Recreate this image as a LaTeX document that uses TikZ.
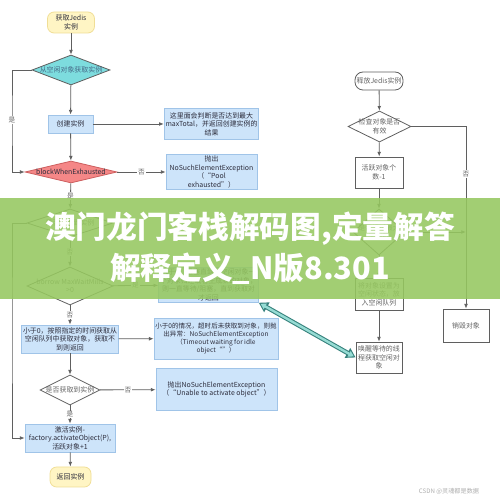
\documentclass[tikz,border=0pt]{standalone}
\usepackage{fontspec}
\setmainfont{Noto Sans CJK SC}
\usetikzlibrary{shapes.geometric,arrows.meta}

\definecolor{lineGray}{RGB}{95,95,95}
\definecolor{txtDark}{RGB}{45,45,60}
\definecolor{txtGray}{RGB}{100,100,100}
\definecolor{startFill}{RGB}{255,245,196}
\definecolor{startDraw}{RGB}{240,222,150}
\definecolor{blueFill}{RGB}{205,228,250}
\definecolor{blueDraw}{RGB}{160,196,232}
\definecolor{cyanFill}{RGB}{125,220,222}
\definecolor{pinkFill}{RGB}{245,135,135}
\definecolor{pinkDraw}{RGB}{205,95,95}
\definecolor{bandGreen}{RGB}{150,200,96}
\definecolor{tealDark}{RGB}{55,130,125}
\definecolor{tealLight}{RGB}{150,220,212}

\tikzset{every picture/.style={line width=0.6pt}}
\tikzset{
  boxtext/.style={font=\fontsize{5.2}{6.4}\selectfont, align=center, inner sep=1pt},
  startend/.style={boxtext, draw=startDraw, fill=startFill, rounded corners=5pt, text=txtDark},
  bluebox/.style={boxtext, draw=blueDraw, fill=blueFill, text=txtDark},
  flowbox/.style={boxtext, draw=lineGray, fill=white, text=txtGray},
  decision/.style={diamond, inner sep=0pt, draw=lineGray},
  dtext/.style={boxtext, text=txtGray},
  arr/.style={draw=lineGray, -{Latex[length=3.5pt,width=2.8pt]}},
  lbl/.style={font=\fontsize{5}{6}\selectfont, fill=white, inner sep=0.6pt, text=txtGray},
}

\begin{document}
\begin{tikzpicture}[x=0.75pt,y=0.75pt,yscale=-1,xscale=1]
\useasboundingbox (0,0) rectangle (500,498);
\fill[white] (0,0) rectangle (500,498);

% ---- left flow: borrow ----
% Text Node
\node[startend, minimum width=35.25pt, minimum height=15.75pt] (start) at (71,22.5) {获取Jedis\\实例};
%Shape: Diamond
\node[decision, fill=cyanFill, minimum width=58.5pt, minimum height=22.5pt,
  label={[dtext, text={rgb,255:red,70;green,105;blue,135}]center:从空闲对象获取实例}] (dIdle) at (71,70) {};
% Text Node
\node[bluebox, minimum width=33.75pt, minimum height=13.5pt] (create) at (70.5,124) {创建实例};
\node[bluebox, minimum width=68.25pt, minimum height=23.25pt] (noteMax) at (211.5,124) {这里面会判断是否达到最大\\maxTotal，并返回创建实例的\\结果};
%Shape: Diamond
\node[decision, fill=pinkFill, draw=pinkDraw, minimum width=69pt, minimum height=16.5pt,
  label={[dtext, text=txtDark]center:blockWhenExhausted}] (dBlock) at (71,172) {};
\node[bluebox, minimum width=68.25pt, minimum height=22.5pt] (exPool) at (211.5,172) {抛出\\NoSuchElementException\\（“Pool\\exhausted”）};
%Shape: Diamond
\node[decision, fill=white, minimum width=64.5pt, minimum height=21pt,
  label={[dtext]center:是否获取到实例}] (dGot) at (70,223) {};
\node[decision, fill=white, minimum width=64.5pt, minimum height=28.5pt,
  label={[dtext]center:{borrow MaxWaitMills\\>0}}] (dWait) at (70,286) {};
\node[bluebox, minimum width=72.75pt, minimum height=22.5pt] (waitBlock) at (208.5,285) {大于0，阻塞直到有空闲对象一\\个对象归还或者生成新的对象，\\则一直等待/阻塞，直到获取对\\才返回};
% Text Node
\node[bluebox, minimum width=67.5pt, minimum height=21pt] (pollTime) at (70,339) {小于0，按照指定的时间获取从\\空闲队列中获取对象，获取不\\到则返回};
\node[bluebox, minimum width=91.5pt, minimum height=30.75pt, font=\fontsize{4.9}{6.2}\selectfont] (exTimeout) at (216,338.5) {小于0的情况，超时后未获取到对象，则抛\\出异常：NoSuchElementException\\（Timeout waiting for idle\\object“”）};
%Shape: Diamond
\node[decision, fill=white, minimum width=45pt, minimum height=22.5pt,
  label={[dtext]center:是否获取到实例}] (dCheck) at (70,390) {};
\node[bluebox, minimum width=90.75pt, minimum height=31.5pt] (exActivate) at (216.5,389.5) {抛出NoSuchElementException\\（“Unable to activate object”）};
% Text Node
\node[bluebox, minimum width=67.5pt, minimum height=21pt] (activate) at (70,438) {激活实例-\\factory.activateObject(P),\\活跃对象+1};
\node[startend, minimum width=30.75pt, minimum height=15pt] (ret) at (70.5,477) {返回实例};

\coordinate (leftA) at (12,120);
\coordinate (leftB) at (12,330);

%Straight Lines
\draw[arr] (start) -- (dIdle);
\draw[arr] (dIdle) -- (create);
\draw[arr] (dIdle.west) -| (leftA) node[lbl] {是} |- (dBlock.west);
\draw[arr] (create) -- (noteMax);
\draw[arr] (create) -- (dBlock);
\draw[arr] (dBlock) -- node[lbl, pos=0.5] {否} (exPool);
\draw[arr] (dBlock) -- node[lbl] {是} (dGot);
\draw[arr] (dGot.west) -| (leftB) |- (activate.west);
\draw[arr] (dGot) -- node[lbl] {否} (dWait);
\draw[arr] (dWait) -- node[lbl] {是} (waitBlock);
\draw[arr] (dWait) -- node[lbl] {否} (pollTime);
\draw[arr] (pollTime) -- (exTimeout);
\draw[arr] (pollTime) -- (dCheck);
\draw[arr] (dCheck) -- node[lbl] {否} (exActivate);
\draw[arr] (dCheck) -- node[lbl] {是} (activate);
\draw[arr] (activate) -- (ret);

% ---- right flow: return ----
% Text Node
\node[flowbox, rounded corners=6pt, minimum width=36pt, minimum height=13.5pt] (release) at (379,81) {释放Jedis实例};
%Shape: Diamond
\node[decision, fill=white, minimum width=47.25pt, minimum height=23.25pt,
  label={[dtext]center:{检查对象是否\\有效}}] (dValid) at (379.5,126.5) {};
\node[flowbox, minimum width=36pt, minimum height=23.25pt] (activeDec) at (379,172.5) {活跃对象个\\数-1};
\node[decision, fill=white, minimum width=39pt, minimum height=34.5pt,
  label={[dtext]center:{是否超过最大\\空闲数}}] (dMaxIdle) at (379,232) {};
\node[flowbox, minimum width=36pt, minimum height=24pt] (toIdle) at (379,294) {将对象设置为\\空闲状态，放\\入空闲队列};
\node[flowbox, minimum width=34.5pt, minimum height=23.25pt] (wake) at (379,357.5) {唤醒等待的线\\程获取空闲对\\象};
\node[flowbox, minimum width=34.5pt, minimum height=24.75pt] (destroy) at (466,325.5) {销毁对象};

%Straight Lines
\draw[arr] (release) -- (dValid);
\draw[arr] (dValid) -- (activeDec);
\draw[arr] (dValid.east) -| node[lbl, pos=0.63] {否} (destroy.north);
\draw[arr] (activeDec) -- (dMaxIdle);
\draw[arr] (dMaxIdle.east) -- (dMaxIdle.east -| destroy.north);
\draw[arr] (dMaxIdle) -- (toIdle);
\draw[arr] (toIdle) -- (wake);

% wake-up link
\draw[tealDark, line width=3.4pt, {Triangle[length=7pt,width=8pt]}-{Triangle[length=7pt,width=8pt]}] (wake.west) -- (waitBlock.south east);
\draw[tealLight, line width=1.8pt, shorten <=1.6pt, shorten >=1.6pt, {Triangle[length=4pt,width=4.6pt]}-{Triangle[length=4pt,width=4.6pt]}] (wake.west) -- (waitBlock.south east);

% title band
\fill[bandGreen, opacity=0.88] (0,198) rectangle (500,299);
\node[text=white, font=\fontsize{23}{26}\bfseries\selectfont, inner sep=0pt] (title1) at (250,229) {澳门龙门客栈解码图,定量解答};
\node[text=white, font=\fontsize{23}{26}\bfseries\selectfont, inner sep=0pt] (title2) at (250,269) {解释定义\_N版8.301};

% Text Node
\node[text={rgb,255:red,175;green,175;blue,175}, font=\fontsize{4.6}{5.5}\selectfont, inner sep=0pt] (mark) at (449,491) {CSDN @灵魂都是数据};
\end{tikzpicture}
\end{document}
